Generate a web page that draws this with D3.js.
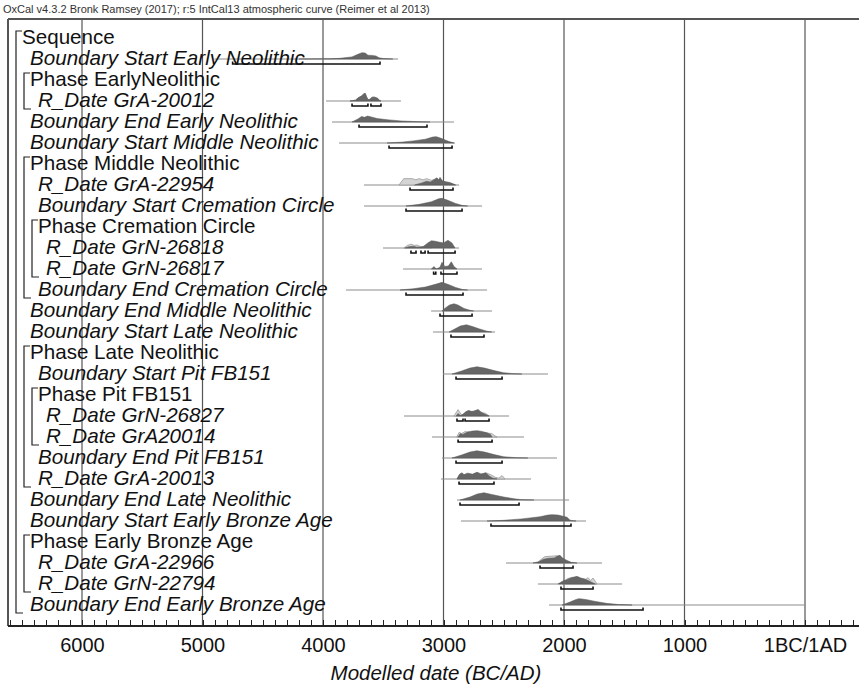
<!DOCTYPE html>
<html lang="en">
<head>
    <meta charset="UTF-8">
    <title>OxCal multiplot</title>
    <script src="https://cdnjs.cloudflare.com/ajax/libs/d3/7.8.5/d3.min.js"></script>
    <style>
        body { margin: 0; background: #fff; }
        text { font-family: "Liberation Sans", Arial, sans-serif; }
        .axis path, .axis line { stroke: #222; shape-rendering: crispEdges; }
    </style>
</head>
<body>
<script type="text/javascript">
    // rows of the model: label, depth, kind (g = group header, i = item)
    const labels = ["Sequence", "Boundary Start Early Neolithic", "Phase EarlyNeolithic", "R_Date GrA-20012",
        "Boundary End Early Neolithic", "Boundary Start Middle Neolithic", "Phase Middle Neolithic", "R_Date GrA-22954",
        "Boundary Start Cremation Circle", "Phase Cremation Circle", "R_Date GrN-26818", "R_Date GrN-26817",
        "Boundary End Cremation Circle", "Boundary End Middle Neolithic", "Boundary Start Late Neolithic",
        "Phase Late Neolithic", "Boundary Start Pit FB151", "Phase Pit FB151", "R_Date GrN-26827", "R_Date GrA20014",
        "Boundary End Pit FB151", "R_Date GrA-20013", "Boundary End Late Neolithic", "Boundary Start Early Bronze Age",
        "Phase Early Bronze Age", "R_Date GrA-22966", "R_Date GrN-22794", "Boundary End Early Bronze Age"];
    const depths = [0,1,1,2,1,1,1,2,2,2,3,3,2,1,1,1,2,2,3,3,2,2,1,1,1,2,2,1];
    const kinds  = ["g","i","g","i","i","i","g","i","i","g","i","i","i","i","i","g","i","g","i","i","i","i","i","i","g","i","i","i"];
    // brackets: [first row, last row, depth]
    const groups = [[0,27,0],[2,3,1],[6,12,1],[9,11,2],[15,21,1],[17,19,2],[24,26,1]];

    // years BC; line = full range, bars = 95.4% ranges
    const lines = {
        1:[4900,3378], 3:[3975,3353], 4:[3925,2913], 5:[3867,2904], 7:[3660,2871], 8:[3660,2680],
        10:[3502,2871], 11:[3336,2680], 12:[3809,2639], 13:[3103,2597], 14:[3087,2572], 16:[3004,2133],
        18:[3328,2456], 19:[3095,2332], 20:[3012,2058], 21:[3021,2274], 22:[2888,1958], 23:[2855,1817],
        25:[2481,1684], 26:[2216,1518], 27:[2124,0]
    };
    const bars = {
        1:[[4750,3527]], 3:[[3759,3627],[3602,3519]], 4:[[3701,3137]], 5:[[3452,2929]], 7:[[3278,2921]],
        8:[[3311,2846]], 10:[[3270,3228],[3187,3153],[3128,2904]], 11:[[3082,3064],[3021,2888]],
        12:[[3311,2838]], 13:[[3029,2763]], 14:[[2938,2664]], 16:[[2896,2514]], 18:[[2888,2838],[2821,2622]],
        19:[[2879,2597]], 20:[[2896,2514]], 21:[[2871,2581]], 22:[[2863,2373]], 23:[[2606,1942]],
        25:[[2199,1925]], 26:[[2025,1759]], 27:[[2025,1344]]
    };
    // unmodelled likelihoods (light) for the R_Dates: [year BC, relative probability]
    const priors = {
        3:[[3776,0],[3730,0.1],[3710,0.35],[3680,0.6],[3660,0.85],[3650,0.9],[3640,0.55],[3627,0.15],[3610,0.2],[3593,0.45],[3570,0.45],[3545,0.3],[3530,0.05],[3519,0]],
        7:[[3369,0],[3330,0.75],[3260,0.75],[3230,0.62],[3200,0.75],[3170,0.6],[3140,0.75],[3100,0.55],[3060,0.75],[3030,0.5],[2990,0.4],[2950,0.3],[2920,0.1],[2900,0]],
        10:[[3330,0],[3300,0.3],[3270,0.45],[3240,0.3],[3220,0.35],[3190,0.15],[3150,0.2],[3128,0.1],[3100,0]],
        18:[[2913,0],[2879,0.75],[2850,0.1],[2838,0.2],[2800,0.6],[2763,0.5],[2713,0.75],[2680,0.4],[2650,0.3],[2622,0]],
        19:[[2890,0],[2870,0.55],[2850,0.4],[2820,0.65],[2780,0.5],[2750,0.6],[2700,0.55],[2650,0.5],[2600,0.4],[2580,0.2],[2556,0]],
        21:[[2888,0],[2860,0.65],[2830,0.5],[2800,0.7],[2760,0.55],[2720,0.75],[2680,0.6],[2640,0.7],[2600,0.45],[2570,0.2],[2540,0.1],[2514,0.4],[2490,0]],
        25:[[2224,0],[2200,0.3],[2160,0.75],[2100,0.8],[2060,0.85],[2033,0.65],[2000,0.4],[1975,0.15],[1940,0]],
        26:[[2016,0],[2000,0.3],[1970,0.65],[1930,0.75],[1900,0.7],[1860,0.6],[1820,0.55],[1800,0.75],[1780,0.4],[1759,0.7],[1740,0.3],[1726,0]]
    };
    // modelled posteriors (dark)
    const posts = {
        1:[[4200,0],[3942,0.02],[3860,0.08],[3760,0.25],[3710,0.55],[3676,0.75],[3650,0.7],[3627,0.45],[3590,0.42],[3560,0.35],[3535,0.15],[3500,0.05],[3420,0]],
        3:[[3776,0],[3730,0.1],[3710,0.35],[3680,0.6],[3660,0.85],[3650,0.9],[3640,0.55],[3627,0.15],[3610,0.2],[3593,0.45],[3570,0.45],[3545,0.3],[3530,0.05],[3519,0]],
        4:[[3760,0],[3710,0.35],[3680,0.65],[3655,0.55],[3630,0.7],[3600,0.6],[3550,0.4],[3450,0.25],[3350,0.12],[3200,0.03],[3112,0]],
        5:[[3469,0],[3350,0.1],[3250,0.25],[3150,0.45],[3090,0.7],[3060,0.75],[3020,0.55],[2960,0.2],[2913,0]],
        7:[[3240,0],[3180,0.25],[3140,0.45],[3110,0.35],[3080,0.6],[3054,0.85],[3040,0.6],[3029,0.9],[3010,0.5],[2980,0.35],[2940,0.25],[2913,0.1],[2900,0]],
        8:[[3311,0],[3200,0.2],[3100,0.5],[3040,0.85],[3012,0.9],[2970,0.7],[2900,0.3],[2840,0.05],[2800,0]],
        10:[[3319,0],[3290,0.15],[3250,0.2],[3220,0.1],[3170,0.15],[3130,0.6],[3100,0.85],[3070,0.8],[3040,0.7],[3000,0.6],[2963,0.9],[2930,0.6],[2904,0]],
        11:[[3100,0],[3079,0.3],[3060,0],[3030,0.2],[3012,0.8],[2990,0.3],[2960,0.35],[2935,0.85],[2913,0.3],[2888,0]],
        12:[[3361,0],[3250,0.15],[3150,0.35],[3060,0.7],[3012,0.9],[2960,0.65],[2900,0.3],[2840,0.05],[2800,0]],
        13:[[3012,0],[2990,0.3],[2950,0.7],[2913,0.85],[2880,0.7],[2830,0.3],[2780,0.08],[2750,0]],
        14:[[2954,0],[2900,0.4],[2860,0.7],[2810,0.85],[2760,0.65],[2700,0.35],[2640,0.1],[2600,0]],
        16:[[2929,0],[2850,0.35],[2780,0.7],[2722,0.85],[2660,0.7],[2580,0.4],[2500,0.15],[2420,0.04],[2350,0]],
        18:[[2895,0],[2880,0.3],[2860,0.05],[2838,0.2],[2815,0.5],[2790,0.65],[2770,0.55],[2750,0.55],[2713,0.75],[2690,0.45],[2660,0.25],[2622,0]],
        19:[[2880,0],[2860,0.4],[2840,0.3],[2800,0.6],[2760,0.7],[2720,0.75],[2680,0.65],[2640,0.5],[2610,0.3],[2597,0]],
        20:[[2929,0],[2850,0.35],[2780,0.7],[2722,0.85],[2660,0.7],[2580,0.4],[2500,0.15],[2400,0.04],[2300,0]],
        21:[[2888,0],[2870,0.5],[2846,0.75],[2830,0.5],[2800,0.65],[2760,0.55],[2722,0.8],[2690,0.55],[2650,0.75],[2620,0.35],[2590,0.1],[2556,0]],
        22:[[2863,0],[2780,0.35],[2720,0.7],[2664,0.85],[2600,0.65],[2500,0.35],[2400,0.12],[2348,0.04],[2250,0]],
        23:[[2639,0],[2500,0.08],[2350,0.25],[2200,0.5],[2133,0.7],[2100,0.75],[2050,0.7],[1975,0.45],[1950,0.1],[1920,0.02],[1900,0]],
        25:[[2257,0],[2210,0.15],[2170,0.45],[2130,0.55],[2080,0.6],[2050,0.85],[2033,0.9],[2010,0.55],[1975,0.3],[1940,0.08],[1892,0]],
        26:[[2050,0],[2016,0.3],[2000,0.4],[1975,0.5],[1940,0.75],[1892,0.9],[1860,0.7],[1830,0.6],[1800,0.4],[1770,0.2],[1740,0]],
        27:[[2016,0],[1950,0.35],[1900,0.65],[1875,0.75],[1820,0.65],[1750,0.45],[1650,0.2],[1550,0.06],[1435,0]]
    };
    const tickYears = [-6000,-5000,-4000,-3000,-2000,-1000,0];
    const tickNames = ["6000","5000","4000","3000","2000","1000","1BC/1AD"];

    const width = 859, height = 686;
    const plotTop = 19, plotBottom = 626, plotLeft = 8;
    const rowStep = 21;

    const x = d3.scaleLinear().domain([-6000, 0]).range([82, 805]);
    const y = d3.scaleLinear().domain([0, 27]).range([38, 38 + 27 * rowStep]);
    const h = d3.scaleLinear().domain([0, 1]).range([0, 8.5]);

    const svg = d3.select("body").append("svg")
        .attr("width", width).attr("height", height);

    svg.append("text").attr("x", 3).attr("y", 13)
        .attr("font-size", "11px").attr("fill", "#333")
        .text("OxCal v4.3.2 Bronk Ramsey (2017); r:5 IntCal13 atmospheric curve (Reimer et al 2013)");

    // grid lines
    svg.selectAll(".grid").data(tickYears).enter().append("line")
        .attr("x1", d => x(d)).attr("x2", d => x(d))
        .attr("y1", plotTop).attr("y2", plotBottom)
        .attr("stroke", "#555").attr("stroke-width", 1.2);

    // frame
    svg.append("line").attr("x1", plotLeft).attr("x2", width).attr("y1", plotTop).attr("y2", plotTop)
        .attr("stroke", "#555").attr("stroke-width", 2);
    svg.append("line").attr("x1", plotLeft).attr("x2", plotLeft).attr("y1", plotTop).attr("y2", plotBottom)
        .attr("stroke", "#555").attr("stroke-width", 2);

    // axis: minor ticks up, labels below
    const minor = d3.range(-6600, 500, 100);
    svg.append("g").attr("class", "axis")
        .attr("transform", "translate(0," + plotBottom + ")")
        .call(d3.axisTop(x).tickValues(minor).tickSize(6).tickFormat(""))
        .call(g => g.select(".domain").remove());
    svg.append("line").attr("x1", plotLeft).attr("x2", width).attr("y1", plotBottom).attr("y2", plotBottom)
        .attr("stroke", "#222").attr("stroke-width", 2);
    svg.append("g")
        .attr("transform", "translate(0," + plotBottom + ")")
        .call(d3.axisBottom(x).tickValues(tickYears).tickSize(0).tickPadding(7)
            .tickFormat((d, i) => tickNames[i]))
        .call(g => g.select(".domain").remove())
        .call(g => g.selectAll("text").attr("font-size", "20px").attr("fill", "#111")
            .attr("font-family", "Liberation Sans, Arial, sans-serif").attr("dy", "0.95em"));

    svg.append("text").attr("x", 436).attr("y", 680)
        .attr("text-anchor", "middle").attr("font-size", "20.5px").attr("font-style", "italic")
        .attr("fill", "#111").text("Modelled date (BC/AD)");

    // distributions
    const area = base => d3.area()
        .x(d => x(-d[0])).y0(base).y1(d => base - h(d[1]));

    labels.forEach((name, i) => {
        const base = y(i);
        if (lines[i]) {
            svg.append("line")
                .attr("x1", x(-lines[i][0])).attr("x2", x(-lines[i][1]))
                .attr("y1", base).attr("y2", base)
                .attr("stroke", "#8c8c8c").attr("stroke-width", 1);
        }
        if (priors[i]) {
            svg.append("path").datum(priors[i]).attr("d", area(base))
                .attr("fill", "#d4d4d4").attr("stroke", "#999").attr("stroke-width", 0.8);
        }
        if (posts[i]) {
            svg.append("path").datum(posts[i]).attr("d", area(base))
                .attr("fill", "#666").attr("stroke", "#555").attr("stroke-width", 0.5);
        }
        (bars[i] || []).forEach(b => {
            const by = base + 5;
            svg.append("path")
                .attr("d", "M" + x(-b[0]) + "," + (by - 2.5) + "V" + by + "H" + x(-b[1]) + "V" + (by - 2.5))
                .attr("fill", "none").attr("stroke", "#111").attr("stroke-width", 1.6);
        });
    });

    // labels
    labels.forEach((name, i) => {
        svg.append("text")
            .attr("x", 22 + 8 * depths[i])
            .attr("y", y(i) + 6)
            .attr("font-size", "20.6px")
            .attr("font-style", kinds[i] === "i" ? "italic" : "normal")
            .attr("fill", "#111")
            .text(name);
    });

    // brackets
    groups.forEach(g => {
        const bx = 16 + 8 * g[2];
        const y1 = y(g[0]) + 6 - 13, y2 = y(g[1]) + 6 + 2;
        svg.append("path")
            .attr("d", "M" + (bx + 6) + "," + y1 + "H" + bx + "V" + y2 + "H" + (bx + 7))
            .attr("fill", "none").attr("stroke", "#222").attr("stroke-width", 1.2);
    });
</script>
</body>
</html>
